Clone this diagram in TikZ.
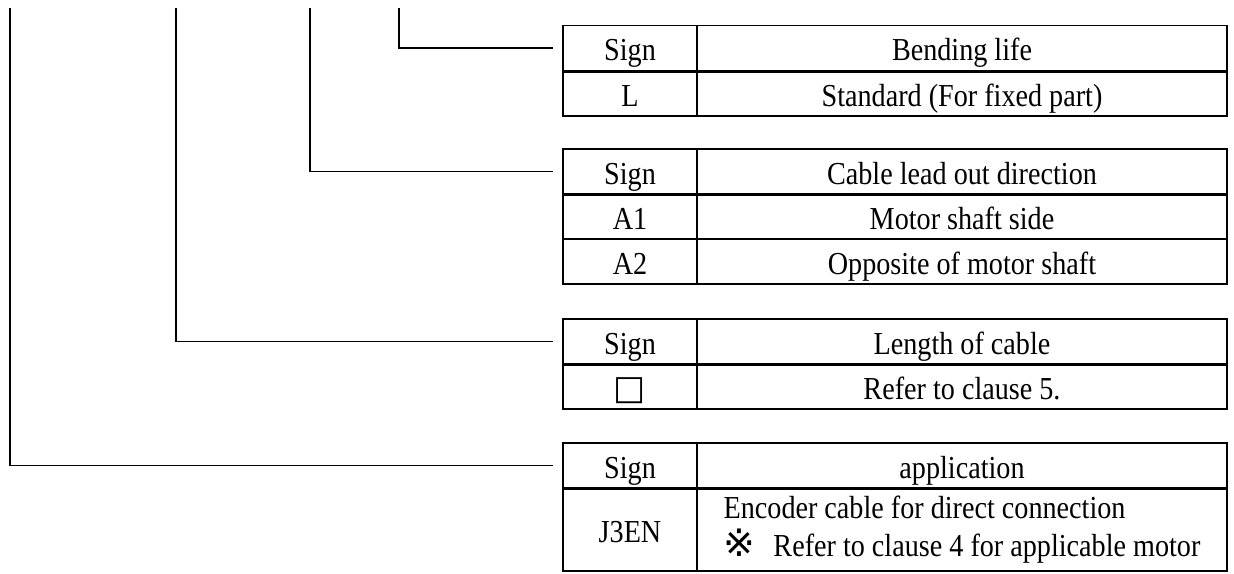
\documentclass[tikz,border=0pt]{standalone}
\usepackage{fontspec}
\setmainfont[FakeStretch=0.88]{Liberation Serif}
\newfontfamily\symfont{DejaVu Sans}

\begin{document}
\begin{tikzpicture}[x=0.5pt, y=-0.5pt,
		every node/.style={font=\fontsize{16}{19}\selectfont},
		signcell/.style={draw, line width=0.6pt, minimum width=67pt, minimum height=22.5pt, inner sep=0pt,
			text height=12.5pt, text depth=0pt},
		desccell/.style={signcell, minimum width=265pt},
		headrule/.style={line width=1.6pt},
		lead/.style={line width=0.7pt, shorten >=4.5pt}]
		\useasboundingbox (0, 0) rectangle (1234, 573);
		% tops of the four leads
		\coordinate (top1) at (10, 8);
		\coordinate (top2) at (176, 8);
		\coordinate (top3) at (310, 8);
		\coordinate (top4) at (399, 8);
		% bending life
		\node [signcell] (sgn1) at (630, 48) {Sign};
		\node [desccell] (hd1) at (962, 48) {Bending life};
		\node [signcell] (L) at (630, 93.5) {L};
		\node [desccell] (std) at (962, 93.5) {Standard (For fixed part)};
		\draw [headrule] (sgn1.south west) -- (hd1.south east);
		% cable lead out direction
		\node [signcell] (sgn2) at (630, 171.5) {Sign};
		\node [desccell] (hd2) at (962, 171.5) {Cable lead out direction};
		\node [signcell] (A1) at (630, 216.5) {A1};
		\node [desccell] (side) at (962, 216.5) {Motor shaft side};
		\node [signcell] (A2) at (630, 261.5) {A2};
		\node [desccell] (opp) at (962, 261.5) {Opposite of motor shaft};
		\draw [headrule] (sgn2.south west) -- (hd2.south east);
		% length of cable
		\node [signcell] (sgn3) at (630, 341.5) {Sign};
		\node [desccell] (hd3) at (962, 341.5) {Length of cable};
		\node [signcell] (box) at (630, 386.5) {{\symfont\fontsize{17}{19}\selectfont □}};
		\node [desccell] (ref5) at (962, 386.5) {Refer to clause 5.};
		\draw [headrule] (sgn3.south west) -- (hd3.south east);
		% application
		\node [signcell] (sgn4) at (630, 465.5) {Sign};
		\node [desccell] (hd4) at (962, 465.5) {application};
		\node [signcell, minimum height=41.5pt] (J3EN) at (630, 529.5) {J3EN};
		\node [desccell, minimum height=41.5pt, text height=, text depth=, align=left] (enc) at (962, 529.5)
			{Encoder cable for direct connection\\{\symfont\fontsize{19}{19}\selectfont ※}\hspace{9pt}Refer to clause 4 for applicable motor};
		\draw [headrule] (sgn4.south west) -- (hd4.south east);
		% leads from the code to each table
		\draw [lead] (top4) |- (sgn1.west);
		\draw [lead] (top3) |- (sgn2.west);
		\draw [lead] (top2) |- (sgn3.west);
		\draw [lead] (top1) |- (sgn4.west);
	\end{tikzpicture}
\end{document}
